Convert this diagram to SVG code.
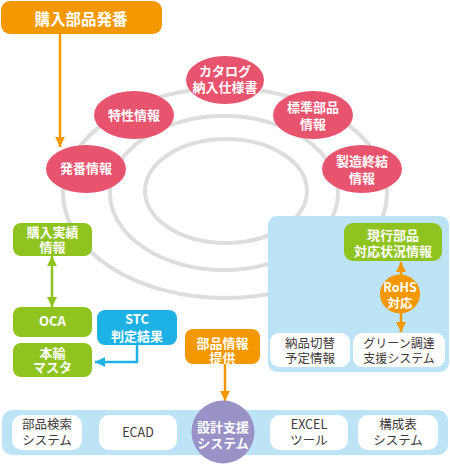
<svg xmlns="http://www.w3.org/2000/svg" width="450" height="469" viewBox="0 0 450 469">
<defs>
<style>
text{font-family:"Noto Sans CJK JP","Noto Sans",sans-serif;text-anchor:middle}
.w{fill:#fff;font-weight:bold;font-size:13px}
.g{fill:#3e3a39;font-size:12.5px}
.ring{fill:none;stroke:#dcdddd;stroke-width:4}
.pink{fill:#e8536e}
.grn{fill:#8fc31f}
.org{fill:#f39800}
.wb{fill:#fff}
.lb{fill:#bde3f7}
</style>
<marker id="ao" viewBox="0 0 10 10" refX="10" refY="5" markerWidth="10" markerHeight="10" markerUnits="userSpaceOnUse" orient="auto-start-reverse"><path d="M0,0 L10,5 L0,10 z" fill="#f39800"/></marker>
<marker id="ag" viewBox="0 0 10 10" refX="10" refY="5" markerWidth="11" markerHeight="10" markerUnits="userSpaceOnUse" orient="auto-start-reverse"><path d="M0,0 L10,5 L0,10 z" fill="#8fc31f"/></marker>
<marker id="ab" viewBox="0 0 10 10" refX="10" refY="5" markerWidth="10" markerHeight="10" markerUnits="userSpaceOnUse" orient="auto"><path d="M0,0 L10,5 L0,10 z" fill="#1eb1e6"/></marker>
</defs>
<g id="rings">
<ellipse class="ring" cx="225" cy="193" rx="162" ry="105"/>
<ellipse class="ring" cx="224" cy="193" rx="114" ry="77"/>
<ellipse class="ring" cx="226" cy="191" rx="81" ry="52"/>
</g>
<g id="top-box"><rect class="org" x="1" y="1" width="161" height="33" rx="9"/><text class="w" x="81" y="24.5" style="font-size:15.5px">購入部品発番</text></g>
<g id="catalog"><ellipse class="pink" cx="225" cy="80" rx="39" ry="24"/><text class="w" x="225" y="75.5">カタログ</text><text class="w" x="225" y="91.5">納入仕様書</text></g>
<g id="tokusei"><ellipse class="pink" cx="134" cy="115" rx="40" ry="24"/><text class="w" x="134" y="119.5">特性情報</text></g>
<g id="hyojun"><ellipse class="pink" cx="313" cy="115" rx="40" ry="24"/><text class="w" x="313" y="111.5">標準部品</text><text class="w" x="313" y="128.5">情報</text></g>
<g id="hatsuban"><ellipse class="pink" cx="86" cy="169" rx="40" ry="24"/><text class="w" x="86" y="173">発番情報</text></g>
<g id="seizo"><ellipse class="pink" cx="362" cy="169" rx="40" ry="24"/><text class="w" x="362" y="165.5">製造終結</text><text class="w" x="362" y="182.5">情報</text></g>
<g id="konyu-jisseki"><rect class="grn" x="13" y="223" width="79" height="33" rx="8"/><text class="w" x="52.5" y="236.5">購入実績</text><text class="w" x="52.5" y="251.5">情報</text></g>
<g id="oca"><rect class="grn" x="13" y="307" width="79" height="30" rx="8"/><text class="w" x="52.5" y="326">OCA</text></g>
<g id="honyu"><rect class="grn" x="13" y="343" width="79" height="34" rx="8"/><text class="w" x="52.5" y="357.5">本輸</text><text class="w" x="52.5" y="372">マスタ</text></g>
<g id="stc"><rect x="97" y="310" width="80" height="35" rx="8" fill="#1eb1e6"/><text class="w" x="137" y="324">STC</text><text class="w" x="137" y="340.5">判定結果</text></g>
<g id="buhin-teikyo"><rect class="org" x="185" y="329" width="75" height="35" rx="8"/><text class="w" x="222.5" y="347.5">部品情報</text><text class="w" x="222.5" y="362.5">提供</text></g>
<g id="right-panel"><rect class="lb" x="268" y="216" width="181" height="156" rx="9"/></g>
<g id="genko"><rect class="grn" x="344" y="223" width="98" height="38" rx="9"/><text class="w" x="393" y="239.5">現行部品</text><text class="w" x="393" y="255.5">対応状況情報</text></g>
<g id="nohin"><rect class="wb" x="270" y="333" width="80" height="34" rx="9"/><text class="g" x="310" y="347.5">納品切替</text><text class="g" x="310" y="362.5">予定情報</text></g>
<g id="green-proc"><rect class="wb" x="353" y="333" width="92" height="34" rx="9"/><text class="g" x="399" y="347.5" style="font-size:12px">グリーン調達</text><text class="g" x="399" y="362.5" style="font-size:12px">支援システム</text></g>
<g id="connectors">
<line x1="60" y1="34" x2="60" y2="147" stroke="#f39800" stroke-width="2.5" marker-end="url(#ao)"/>
<line x1="52" y1="256" x2="52" y2="307" stroke="#8fc31f" stroke-width="2.5" marker-start="url(#ag)" marker-end="url(#ag)"/>
<polyline points="137,345 137,362 95,362" fill="none" stroke="#1eb1e6" stroke-width="2.5" marker-end="url(#ab)"/>
<line x1="225" y1="364" x2="225" y2="401" stroke="#f39800" stroke-width="2.5" marker-end="url(#ao)"/>
<line x1="401" y1="262" x2="401" y2="332" stroke="#f39800" stroke-width="2.5" marker-start="url(#ao)" marker-end="url(#ao)"/>
</g>
<g id="rohs"><ellipse class="org" cx="400" cy="294" rx="20" ry="19.5"/><text class="w" x="400" y="291.5" style="font-size:12.5px">RoHS</text><text class="w" x="400" y="307.5" style="font-size:12.5px">対応</text></g>
<g id="bottom-band"><rect class="lb" x="2" y="410" width="446" height="45" rx="10"/></g>
<g id="buhin-kensaku"><rect class="wb" x="12" y="415" width="70" height="35" rx="10"/><text class="g" x="47" y="428.5">部品検索</text><text class="g" x="47" y="445">システム</text></g>
<g id="ecad"><rect class="wb" x="99" y="415" width="78" height="35" rx="10"/><text class="g" x="138" y="437">ECAD</text></g>
<g id="sekkei"><circle cx="223" cy="432" r="31.5" fill="#9992c6"/><text class="w" x="223" y="431.5">設計支援</text><text class="w" x="223" y="447.5">システム</text></g>
<g id="excel"><rect class="wb" x="270" y="415" width="78" height="35" rx="10"/><text class="g" x="309" y="428.5">EXCEL</text><text class="g" x="309" y="445">ツール</text></g>
<g id="kosei"><rect class="wb" x="358" y="415" width="80" height="35" rx="10"/><text class="g" x="398" y="428.5">構成表</text><text class="g" x="398" y="445">システム</text></g>
</svg>
